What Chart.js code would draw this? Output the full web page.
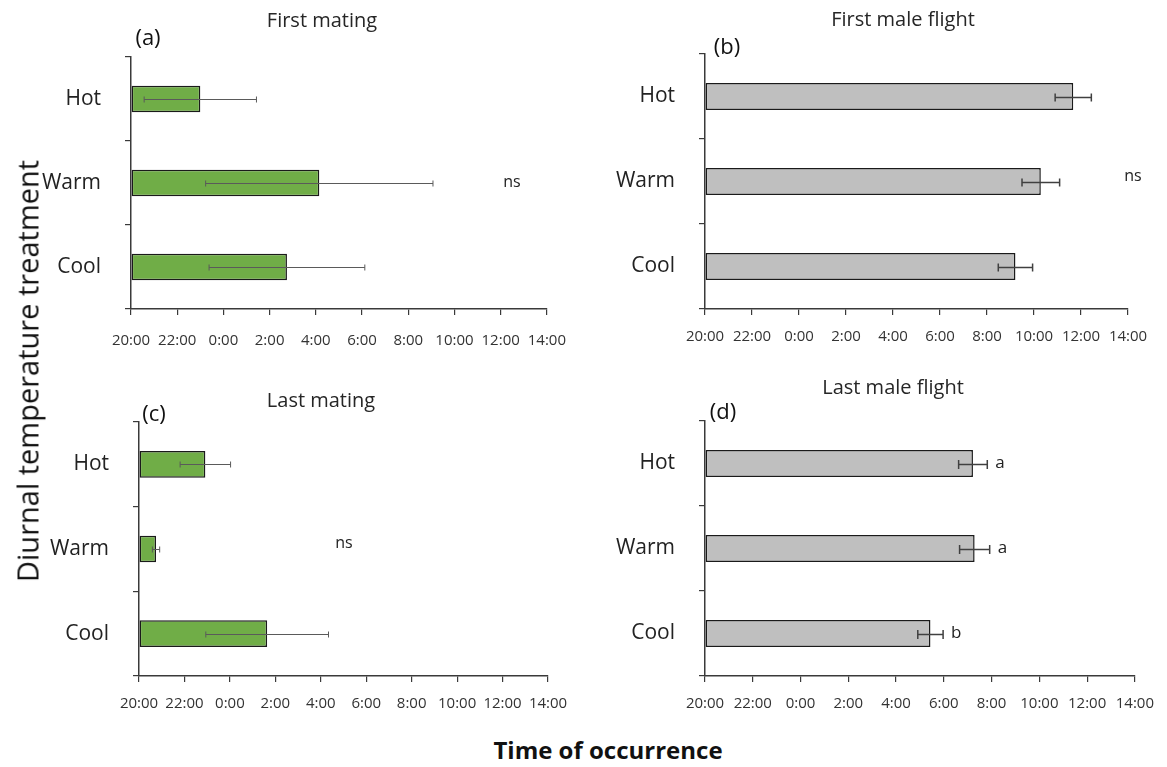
<!DOCTYPE html>
<html>
<head>
<meta charset="utf-8">
<title>Diurnal temperature treatment</title>
<script src="https://cdn.jsdelivr.net/npm/chart.js@4.4.1/dist/chart.umd.min.js"></script>
<style>
  html, body { margin: 0; padding: 0; background: #fff; }
  #page {
    position: relative; width: 1167px; height: 767px; overflow: hidden;
    font-family: 'Open Sans', sans-serif; color: #222;
  }
  canvas { position: absolute; }
  .txt { position: absolute; white-space: nowrap; transform: translate(-50%, -50%); line-height: 1; }
  .title { font-size: 20px; color: #262626; }
  .tag   { font-size: 22px; color: #111; }
  .ns    { font-size: 16px; color: #222; }
  #yTitle { font-size: 29px; color: #111; transform: translate(-50%, -50%) rotate(-90deg); }
  #xTitle { font-size: 24px; font-weight: 700; color: #111; }
</style>
</head>
<body>
<div id="page">
  <canvas id="chartA"></canvas>
  <canvas id="chartB"></canvas>
  <canvas id="chartC"></canvas>
  <canvas id="chartD"></canvas>

  <div class="txt title" style="left:322px; top:20px;">First mating</div>
  <div class="txt title" style="left:903px; top:19px;">First male flight</div>
  <div class="txt title" style="left:321px; top:400px;">Last mating</div>
  <div class="txt title" style="left:893px; top:387px;">Last male flight</div>

  <div class="txt tag" style="left:148px; top:36px;">(a)</div>
  <div class="txt tag" style="left:727px; top:45px;">(b)</div>
  <div class="txt tag" style="left:154px; top:412px;">(c)</div>
  <div class="txt tag" style="left:723px; top:410px;">(d)</div>

  <div class="txt ns" style="left:512px; top:181px;">ns</div>
  <div class="txt ns" style="left:1133px; top:175px;">ns</div>
  <div class="txt ns" style="left:344px; top:542px;">ns</div>

  <div class="txt" id="yTitle" style="left:27px; top:371px;">Diurnal temperature treatment</div>
  <div class="txt" id="xTitle" style="left:608px; top:750px;">Time of occurrence</div>
</div>

<script>
// ------------------------------------------------------------
// Data (hours after 20:00, mean and standard error)
// ------------------------------------------------------------
const categories = ['Hot', 'Warm', 'Cool'];
const tickLabels = ['20:00', '22:00', '0:00', '2:00', '4:00', '6:00', '8:00', '10:00', '12:00', '14:00'];

const firstMatingMean = [3.0, 8.15, 6.75];
const firstMatingErr  = [2.43, 4.92, 3.37];

const firstFlightMean = [15.67, 14.29, 13.21];
const firstFlightErr  = [0.77, 0.80, 0.73];

const lastMatingMean  = [2.92, 0.75, 5.64];
const lastMatingErr   = [1.11, 0.16, 2.70];

const lastFlightMean  = [11.22, 11.29, 9.44];
const lastFlightErr   = [0.60, 0.63, 0.53];
const lastFlightSig   = ['a', 'a', 'b'];

(function () {
  'use strict';

  const GREEN = '#70ad47';
  const GREY  = '#bfbfbf';
  const AXIS  = '#3a3a3a';

  Chart.defaults.font.family = "'Open Sans', sans-serif";

  // ----------------------------------------------------------
  // Error bars + significance letters
  // ----------------------------------------------------------
  const errorBars = {
    id: 'errorBars',
    afterDatasetsDraw(chart, args, opts) {
      const ctx  = chart.ctx;
      const xs   = chart.scales.x;
      const meta = chart.getDatasetMeta(0);

      ctx.save();
      ctx.strokeStyle = opts.color;
      ctx.lineWidth   = opts.width;

      meta.data.forEach((bar, i) => {
        const m  = opts.means[i];
        const e  = opts.errors[i];
        const x1 = xs.getPixelForValue(m - e);
        const x2 = xs.getPixelForValue(m + e);
        const y  = Math.round(bar.y) + 0.5;

        ctx.beginPath();
        ctx.moveTo(x1, y); ctx.lineTo(x2, y);
        ctx.moveTo(x1, y - opts.cap); ctx.lineTo(x1, y + opts.cap);
        ctx.moveTo(x2, y - opts.cap); ctx.lineTo(x2, y + opts.cap);
        ctx.stroke();

        if (opts.letters) {
          ctx.fillStyle    = '#222';
          ctx.font         = "17px 'Open Sans', sans-serif";
          ctx.textAlign    = 'left';
          ctx.textBaseline = 'middle';
          ctx.fillText(opts.letters[i], x2 + 8, y - 1);
        }
      });

      ctx.restore();
    },
  };

  // ----------------------------------------------------------
  // One panel = one canvas; area = wanted plot rectangle (page px)
  // ----------------------------------------------------------
  function panel(id, box, area, means, errors, fill, bars) {
    const cv = document.getElementById(id);
    cv.width  = box.width;
    cv.height = box.height;
    cv.style.left = box.left + 'px';
    cv.style.top  = box.top + 'px';

    return new Chart(cv, {
      type: 'bar',
      data: {
        labels: categories,
        datasets: [{
          data:               means,
          backgroundColor:    fill,
          borderColor:        '#1a1a1a',
          borderWidth:        1.5,
          borderSkipped:      false,
          barPercentage:      0.315,
          categoryPercentage: 1,
        }],
      },
      options: {
        indexAxis:  'y',
        responsive: false,
        animation:  false,
        events:     [],
        layout: {
          autoPadding: false,
          padding: {
            left:   0,
            top:    area.top - box.top,
            right:  box.left + box.width - area.right,
            bottom: 0,
          },
        },
        plugins: {
          legend:  { display: false },
          tooltip: { enabled: false },
          errorBars: {
            means:   means,
            errors:  errors,
            color:   bars.color,
            width:   bars.width,
            cap:     bars.cap,
            letters: bars.letters || null,
          },
        },
        scales: {
          x: {
            type: 'linear',
            min:  0,
            max:  18,
            afterFit: (s) => { s.height = box.top + box.height - area.bottom; },
            ticks: {
              stepSize:    2,
              autoSkip:    false,
              maxRotation: 0,
              padding:     area.xPad,
              color:       '#333',
              font:        { size: 15 },
              callback:    (v) => tickLabels[v / 2],
            },
            grid:   { drawOnChartArea: false, tickLength: 6, color: AXIS, lineWidth: 1.2 },
            border: { color: AXIS, width: 1.5 },
          },
          y: {
            afterFit: (s) => { s.width = area.left - box.left; },
            ticks: {
              padding: 24,
              color:   '#222',
              font:    { size: 21 },
            },
            grid:   { offset: true, drawOnChartArea: false, tickLength: 6, color: AXIS, lineWidth: 1.2 },
            border: { color: AXIS, width: 1.5 },
          },
        },
      },
      plugins: [errorBars],
    });
  }

  // ----------------------------------------------------------
  // Init
  // ----------------------------------------------------------
  panel('chartA',
    { left: 0, top: 0, width: 583, height: 370 },
    { left: 131, top: 57, right: 557, bottom: 309, xPad: 17 },
    firstMatingMean, firstMatingErr, GREEN,
    { color: '#5a5a5a', width: 1, cap: 3 });

  panel('chartB',
    { left: 583, top: 0, width: 584, height: 370 },
    { left: 705, top: 54, right: 1128, bottom: 309, xPad: 13 },
    firstFlightMean, firstFlightErr, GREY,
    { color: '#404040', width: 1.5, cap: 4 });

  panel('chartC',
    { left: 0, top: 370, width: 583, height: 360 },
    { left: 139, top: 422, right: 548, bottom: 676, xPad: 13 },
    lastMatingMean, lastMatingErr, GREEN,
    { color: '#5a5a5a', width: 1, cap: 3 });

  panel('chartD',
    { left: 583, top: 370, width: 584, height: 360 },
    { left: 705, top: 421, right: 1137, bottom: 676, xPad: 13 },
    lastFlightMean, lastFlightErr, GREY,
    { color: '#404040', width: 1.5, cap: 4.5, letters: lastFlightSig });
})();
</script>
</body>
</html>
